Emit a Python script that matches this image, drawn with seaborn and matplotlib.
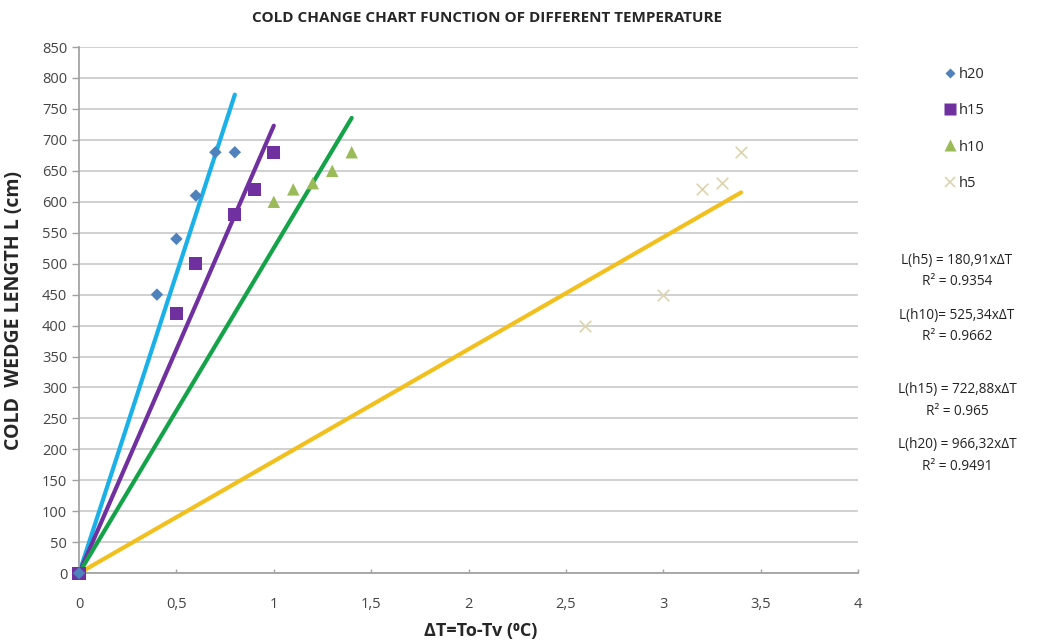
import matplotlib
matplotlib.use("Agg")
import matplotlib.pyplot as plt
import seaborn as sns
import numpy as np
import pandas as pd
from matplotlib.ticker import FuncFormatter, MultipleLocator

# Measured cold wedge lengths for each series
series = ["h20", "h15", "h10", "h5"]
dt_h20 = [0, 0.4, 0.5, 0.6, 0.7, 0.8]
len_h20 = [0, 450, 540, 610, 680, 680]
dt_h15 = [0, 0.5, 0.6, 0.8, 0.9, 1.0]
len_h15 = [0, 420, 500, 580, 620, 680]
dt_h10 = [0, 1.0, 1.1, 1.2, 1.3, 1.4]
len_h10 = [0, 600, 620, 630, 650, 680]
dt_h5 = [0, 2.6, 3.0, 3.2, 3.3, 3.4]
len_h5 = [0, 400, 450, 620, 630, 680]

# Linear fits through the origin: L = slope * dT
slopes = {"h5": 180.91, "h10": 525.34, "h15": 722.88, "h20": 966.32}
r2 = {"h5": "0.9354", "h10": "0.9662", "h15": "0.965", "h20": "0.9491"}
slope_labels = {"h5": "180,91", "h10": "525,34", "h15": "722,88", "h20": "966,32"}

points = pd.concat([
    pd.DataFrame({"dT": dt_h20, "L": len_h20, "series": "h20"}),
    pd.DataFrame({"dT": dt_h15, "L": len_h15, "series": "h15"}),
    pd.DataFrame({"dT": dt_h10, "L": len_h10, "series": "h10"}),
    pd.DataFrame({"dT": dt_h5, "L": len_h5, "series": "h5"}),
], ignore_index=True)

max_dt = {"h20": max(dt_h20), "h15": max(dt_h15), "h10": max(dt_h10), "h5": max(dt_h5)}
fit_rows = []
for s in series:
    for x in (0.0, max_dt[s]):
        fit_rows.append({"dT": x, "L": slopes[s] * x, "series": s})
fits = pd.DataFrame(fit_rows)

marker_colors = {"h20": "#4f81bd", "h15": "#7030a0", "h10": "#9bbb59", "h5": "#ddd3b0"}
line_colors = {"h20": "#1ab0e8", "h15": "#7030a0", "h10": "#15a34a", "h5": "#f2c01e"}
markers = {"h20": "D", "h15": "s", "h10": "^", "h5": "x"}
sizes = {"h20": 40, "h15": 90, "h10": 80, "h5": 70}

sns.set_theme(style="white")
plt.rcParams["font.family"] = ["Open Sans", "DejaVu Sans"]

fig = plt.figure(figsize=(10.47, 6.44), dpi=100)
ax = fig.add_axes([0.0755, 0.110, 0.744, 0.817])

# Trend lines under the markers
sns.lineplot(data=fits, x="dT", y="L", hue="series", palette=line_colors,
             linewidth=3, legend=False, ax=ax, zorder=2)

for s in ["h5", "h10", "h15", "h20"]:
    d = points[points["series"] == s]
    kw = dict(linewidth=1.2) if s == "h5" else dict(edgecolor="none")
    sns.scatterplot(data=d, x="dT", y="L", color=marker_colors[s], marker=markers[s],
                    s=sizes[s], ax=ax, zorder=3, legend=False, clip_on=False, **kw)

ax.set_xlim(0, 4)
ax.set_ylim(0, 850)
ax.yaxis.set_major_locator(MultipleLocator(50))
ax.xaxis.set_major_locator(MultipleLocator(0.5))
ax.xaxis.set_major_formatter(FuncFormatter(lambda v, p: ("%g" % v).replace(".", ",")))
ax.grid(axis="y", color="#c8c8c8", linewidth=1.2)
ax.set_axisbelow(True)
for side in ("top", "right"):
    ax.spines[side].set_visible(False)
ax.spines["left"].set_color("#a0a0a0")
ax.spines["bottom"].set_color("#a0a0a0")
ax.tick_params(axis="y", labelsize=10.5, labelcolor="#444444", color="#a0a0a0",
               length=5, width=1, direction="out", left=True)
ax.tick_params(axis="x", labelsize=10.5, labelcolor="#444444", color="#a0a0a0",
               length=3, width=1, direction="in", bottom=True, pad=17)

ax.set_xlabel("ΔT=To-Tv (⁰C)", fontsize=13, fontweight="bold")
ax.xaxis.set_label_coords(0.515, -0.093)
ax.set_ylabel("COLD  WEDGE LENGTH L (cm)", fontsize=14, fontweight="bold")
ax.yaxis.set_label_coords(-0.071, 0.5)
fig.text(0.465, 0.972, "COLD CHANGE CHART FUNCTION OF DIFFERENT TEMPERATURE",
         ha="center", va="center", fontsize=11, fontweight="bold")

# Legend on the right
handles = []
for s in series:
    if s == "h5":
        h = plt.Line2D([], [], linestyle="none", marker="x", color=marker_colors[s],
                       markersize=7, markeredgewidth=1.2)
    else:
        ms = {"h20": 5, "h15": 8, "h10": 8}[s]
        h = plt.Line2D([], [], linestyle="none", marker=markers[s], color=marker_colors[s],
                       markeredgecolor="none", markersize=ms)
    handles.append(h)
fig.legend(handles, series, loc="upper left", bbox_to_anchor=(0.888, 0.916),
           frameon=False, fontsize=10.5, labelspacing=1.45, handletextpad=0.1,
           handlelength=1.0)

# Fit equations
eq_y = [0.579, 0.494, 0.378, 0.293]
eq_text = [
    "L(h5) = %s×ΔT\nR² = %s" % (slope_labels["h5"], r2["h5"]),
    "L(h10)= %s×ΔT\nR² = %s" % (slope_labels["h10"], r2["h10"]),
    "L(h15) = %s×ΔT\nR² = %s" % (slope_labels["h15"], r2["h15"]),
    "L(h20) = %s×ΔT\nR² = %s" % (slope_labels["h20"], r2["h20"]),
]
for y, t in zip(eq_y, eq_text):
    fig.text(0.914, y, t.replace("×", "x"), ha="center", va="center", fontsize=9.8,
             linespacing=1.6, color="#222222")

fig.savefig("out.png", dpi=100)
